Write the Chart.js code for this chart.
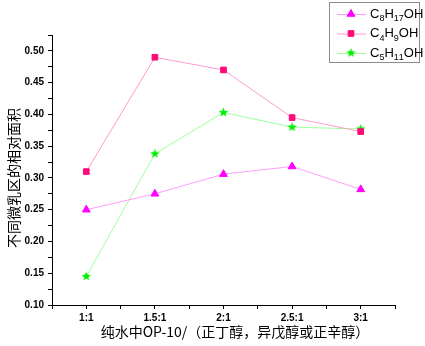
<!DOCTYPE html>
<html>
<head>
<meta charset="utf-8">
<script src="https://cdn.jsdelivr.net/npm/chart.js@4.4.0/dist/chart.umd.min.js"></script>
<style>
  html, body { margin: 0; padding: 0; background: #fff; }
  #wrap { width: 425px; height: 346px; }
</style>
</head>
<body>
<div id="wrap"><canvas id="areaChart" width="425" height="346"></canvas></div>
<script>
const categories = ["1:1", "1.5:1", "2:1", "2.5:1", "3:1"];
const seriesNames = ["C8H17OH", "C4H9OH", "C5H11OH"];
const octanol  = [0.250, 0.275, 0.306, 0.318, 0.282];
const butanol  = [0.310, 0.490, 0.470, 0.395, 0.373];
const pentanol = [0.145, 0.338, 0.403, 0.380, 0.377];
const yTitle = "不同微乳区的相对面积";
const xTitle = "纯水中OP-10/（正丁醇，异戊醇或正辛醇）";

// filled five-point star, Chart.js "star" is only an asterisk
function makeStar(color) {
  const c = document.createElement("canvas");
  c.width = 11; c.height = 11;
  const g = c.getContext("2d");
  g.beginPath();
  for (let i = 0; i < 10; i++) {
    const r = i % 2 === 0 ? 5 : 2.1;
    const a = -Math.PI / 2 + i * Math.PI / 5;
    const px = 5.5 + r * Math.cos(a), py = 5.5 + r * Math.sin(a);
    if (i === 0) g.moveTo(px, py); else g.lineTo(px, py);
  }
  g.closePath();
  g.fillStyle = color;
  g.fill();
  return c;
}
const starImg = makeStar("#00ee00");

function toPoints(values) {
  return values.map((v, i) => ({ x: i, y: v }));
}

// axis titles, placed by hand (the origin plot centres them a bit off the area)
const axisTitles = {
  id: "axisTitles",
  afterDraw(chart) {
    const ctx = chart.ctx;
    ctx.save();
    ctx.fillStyle = "#000";
    ctx.textAlign = "center";
    ctx.textBaseline = "middle";
    ctx.font = "14px 'Noto Sans CJK SC'";
    ctx.fillText(xTitle, 235, 332);
    ctx.translate(14, 178);
    ctx.rotate(-Math.PI / 2);
    ctx.fillText(yTitle, 0, 0);
    ctx.restore();
  }
};

// legend with subscripted digits, drawn by hand
const chemLegend = {
  id: "chemLegend",
  afterDraw(chart) {
    const ctx = chart.ctx;
    const bx = 329, by = 2, bw = 90, bh = 60;
    ctx.save();
    ctx.fillStyle = "#fff";
    ctx.fillRect(bx, by, bw, bh);
    ctx.strokeStyle = "#8c8c8c";
    ctx.lineWidth = 1;
    ctx.strokeRect(bx + 0.5, by + 0.5, bw, bh);
    chart.data.datasets.forEach((ds, i) => {
      const y = 14 + i * 19.5;
      ctx.strokeStyle = ds.borderColor;
      ctx.lineWidth = 1;
      ctx.beginPath();
      ctx.moveTo(337, y + 0.5);
      ctx.lineTo(366, y + 0.5);
      ctx.stroke();
      ctx.fillStyle = ds.pointBackgroundColor;
      ctx.strokeStyle = ds.pointBorderColor;
      Chart.helpers.drawPoint(ctx, {
        pointStyle: ds.pointStyle, radius: ds.pointRadius, rotation: 0, borderWidth: 1
      }, 351, y);
      let tx = 370;
      ctx.fillStyle = "#000";
      ctx.textBaseline = "middle";
      ctx.textAlign = "left";
      for (const ch of ds.label) {
        const sub = /[0-9]/.test(ch);
        ctx.font = sub ? "9px 'Liberation Sans', Arial" : "13px 'Liberation Sans', Arial";
        ctx.fillText(ch, tx, sub ? y + 5 : y);
        tx += ctx.measureText(ch).width;
      }
    });
    ctx.restore();
  }
};

function seriesStyle(lineColor, pointColor, style, radius) {
  return {
    borderColor: lineColor,
    borderWidth: 1,
    pointStyle: style,
    pointRadius: radius,
    pointHoverRadius: radius,
    pointBackgroundColor: pointColor,
    pointBorderColor: pointColor,
    pointBorderWidth: 1,
    fill: false,
    tension: 0
  };
}

const tickFont = { family: "'Liberation Sans', Arial", size: 10, weight: "bold" };

new Chart(document.getElementById("areaChart"), {
  type: "line",
  data: {
    datasets: [
      Object.assign({ label: seriesNames[0], data: toPoints(octanol) },
        seriesStyle("#ff9cff", "#ff00ff", "triangle", 4.5)),
      Object.assign({ label: seriesNames[1], data: toPoints(butanol) },
        seriesStyle("#ff9ccc", "#ff0a78", "rect", 4)),
      Object.assign({ label: seriesNames[2], data: toPoints(pentanol) },
        seriesStyle("#9cff9c", "#00ee00", starImg, 5))
    ]
  },
  plugins: [axisTitles, chemLegend],
  options: {
    responsive: false,
    animation: false,
    events: [],
    layout: { padding: { top: 35, right: 30, left: 0, bottom: 0 } },
    plugins: { legend: { display: false }, tooltip: { enabled: false } },
    scales: {
      x: {
        type: "linear",
        min: -0.5,
        max: 4.5,
        afterFit: s => { s.height = 41; },
        border: { display: true, color: "#000", width: 1 },
        grid: { drawOnChartArea: false, drawTicks: true, tickLength: 4, tickColor: "#000" },
        ticks: {
          stepSize: 0.5,
          autoSkip: false,
          maxRotation: 0,
          padding: 3,
          color: "#000",
          font: tickFont,
          callback: v => Number.isInteger(v) ? categories[v] : ""
        }
      },
      y: {
        min: 0.1,
        max: 0.525,
        afterFit: s => { s.width = 52; },
        border: { display: true, color: "#000", width: 1 },
        grid: { drawOnChartArea: false, drawTicks: true, tickLength: 4, tickColor: "#000" },
        ticks: {
          stepSize: 0.025,
          autoSkip: false,
          padding: 4,
          color: "#000",
          font: tickFont,
          callback: v => Math.abs(v * 20 - Math.round(v * 20)) < 1e-6 ? v.toFixed(2) : ""
        }
      }
    }
  }
});
</script>
</body>
</html>
